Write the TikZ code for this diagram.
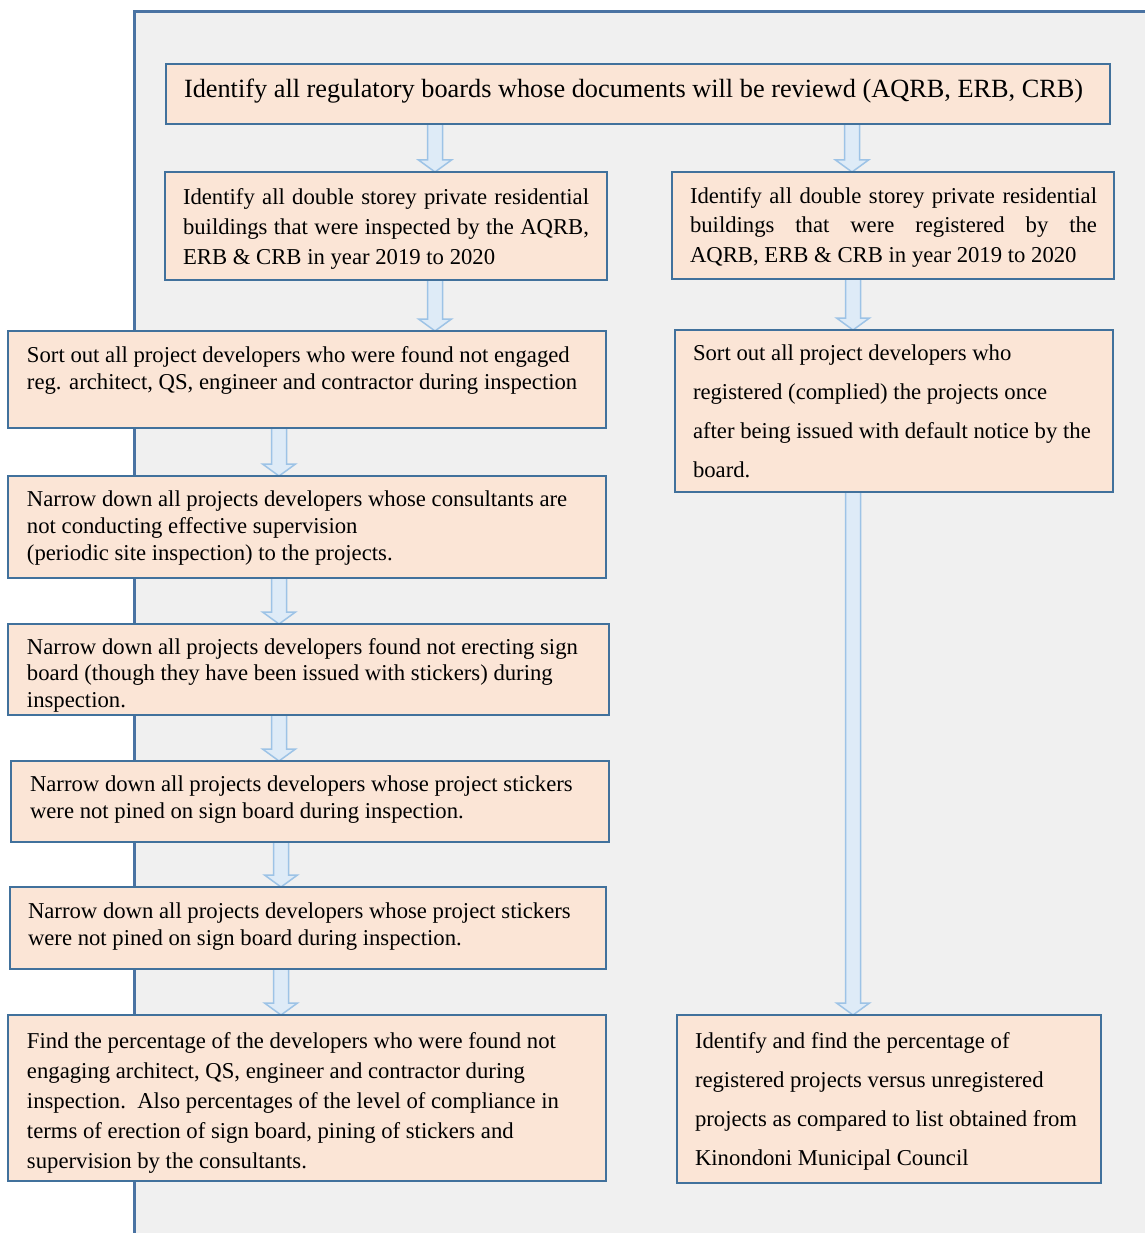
\documentclass[tikz,border=0pt]{standalone}
\usepackage{fontspec}
\setmainfont{Liberation Serif}
\usetikzlibrary{calc,backgrounds}

\definecolor{panelgray}{HTML}{F0F0F0}
\definecolor{panelline}{HTML}{4A73A3}
\definecolor{boxfill}{HTML}{FBE5D6}
\definecolor{boxline}{HTML}{41719C}
\definecolor{arrfill}{HTML}{DEEBF7}
\definecolor{arrline}{HTML}{9DC3E6}

\tikzset{
  stagebox/.style={draw=boxline, fill=boxfill, line width=2.7pt, rectangle,
    inner sep=0pt, outer sep=0pt, anchor=north west},
  stagetext/.style={inner sep=0pt, outer sep=0pt, anchor=north west, align=left,
    text=black},
  blockarrow/.style={draw=arrline, fill=arrfill, line width=1.5pt, line join=miter},
}

% hollow block arrow from the bottom of #1 to the top of #2 at x = #3
\newcommand\flowarrow[3]{%
  \path[blockarrow] let \p1=(#1.south), \p2=(#2.north) in
    ({#3pt-7.5pt},\y1) -- ({#3pt+7.5pt},\y1) -- ({#3pt+7.5pt},{\y2+12pt})
    -- ({#3pt+16.5pt},{\y2+12pt}) -- ({#3pt},\y2) -- ({#3pt-16.5pt},{\y2+12pt})
    -- ({#3pt-7.5pt},{\y2+12pt}) -- cycle;}

\newcommand\bodyfont[1]{\fontsize{22.7}{#1}\selectfont}

\begin{document}
\begin{tikzpicture}[x=1pt,y=-1pt]
\useasboundingbox (0,0) rectangle (1145,1233);

% stage boxes
\node[stagebox, minimum width=944pt, minimum height=60pt]  (top) at (166,64) {};
\node[stagebox, minimum width=442pt, minimum height=108pt] (l2)  at (165,172) {};
\node[stagebox, minimum width=442pt, minimum height=107pt] (r2)  at (672,172) {};
\node[stagebox, minimum width=598pt, minimum height=97pt]  (l3)  at (8,331) {};
\node[stagebox, minimum width=438pt, minimum height=162pt] (r3)  at (675,330) {};
\node[stagebox, minimum width=598pt, minimum height=102pt] (l4)  at (8,476) {};
\node[stagebox, minimum width=601pt, minimum height=91pt]  (l5)  at (8,624) {};
\node[stagebox, minimum width=598pt, minimum height=81pt]  (l6)  at (11,761) {};
\node[stagebox, minimum width=596pt, minimum height=82pt]  (l7)  at (10,887) {};
\node[stagebox, minimum width=598pt, minimum height=166pt] (l8)  at (8,1015) {};
\node[stagebox, minimum width=424pt, minimum height=168pt] (r8)  at (677,1015) {};

% box texts
\node[stagetext, font=\fontsize{26.3}{30}\selectfont] (ttop) at (184,79)
  {Identify all regulatory boards whose documents will be reviewd (AQRB, ERB, CRB)};
\node[stagetext, font=\bodyfont{30}] (tl2) at (183,188.5)
  {\makebox[406pt][s]{Identify all double storey private residential}\\
   \makebox[406pt][s]{buildings that were inspected by the AQRB,}\\
   ERB \& CRB in year 2019 to 2020};
\node[stagetext, font=\bodyfont{29.5}] (tr2) at (690,187.5)
  {\makebox[407pt][s]{Identify all double storey private residential}\\
   \makebox[407pt][s]{buildings that were registered by the}\\
   AQRB, ERB \& CRB in year 2019 to 2020};
\node[stagetext, font=\bodyfont{27}] (tl3) at (27,346.5)
  {Sort out all project developers who were found not engaged\\
   reg. architect, QS, engineer and contractor during inspection};
\node[stagetext, font=\bodyfont{39}] (tr3) at (693,344.5)
  {Sort out all project developers who\\
   registered (complied) the projects once\\
   after being issued with default notice by the\\
   board.};
\node[stagetext, font=\bodyfont{27}] (tl4) at (27,490.5)
  {Narrow down all projects developers whose consultants are\\
   not conducting effective supervision\\
   (periodic site inspection) to the projects.};
\node[stagetext, font=\bodyfont{26.5}] (tl5) at (27,638.5)
  {Narrow down all projects developers found not erecting sign\\
   board (though they have been issued with stickers) during\\
   inspection.};
\node[stagetext, font=\bodyfont{27}] (tl6) at (30,775.5)
  {Narrow down all projects developers whose project stickers\\
   were not pined on sign board during inspection.};
\node[stagetext, font=\bodyfont{27}] (tl7) at (28,902.5)
  {Narrow down all projects developers whose project stickers\\
   were not pined on sign board during inspection.};
\node[stagetext, font=\bodyfont{30}] (tl8) at (27,1032.5)
  {Find the percentage of the developers who were found not\\
   engaging architect, QS, engineer and contractor during\\
   inspection.\ \ Also percentages of the level of compliance in\\
   terms of erection of sign board, pining of stickers and\\
   supervision by the consultants.};
\node[stagetext, font=\bodyfont{39}] (tr8) at (695,1032.5)
  {Identify and find the percentage of\\
   registered projects versus unregistered\\
   projects as compared to list obtained from\\
   Kinondoni Municipal Council};

\begin{scope}[on background layer]
  % grey panel behind the right part of the chart
  \fill[panelgray] (134,12) rectangle (1145,1233);
  \draw[panelline, line width=3pt] (134,1233) -- (134,12) -- (1145,12);
  % connectors
  \flowarrow{top}{l2}{435}
  \flowarrow{top}{r2}{852}
  \flowarrow{l2}{l3}{435}
  \flowarrow{r2}{r3}{853}
  \flowarrow{l3}{l4}{279}
  \flowarrow{l4}{l5}{279}
  \flowarrow{l5}{l6}{279}
  \flowarrow{l6}{l7}{281}
  \flowarrow{l7}{l8}{281}
  \flowarrow{r3}{r8}{853}
\end{scope}
\end{tikzpicture}
\end{document}
